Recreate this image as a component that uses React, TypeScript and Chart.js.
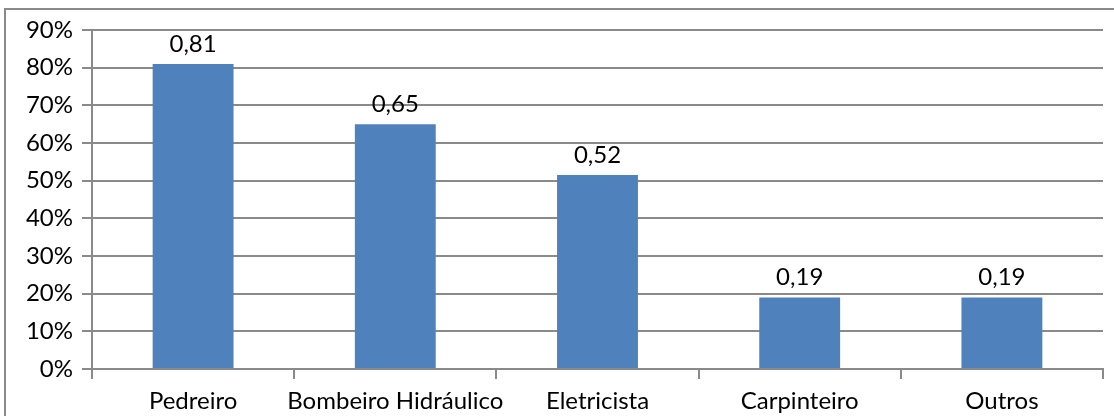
import React, { useEffect, useRef } from "react";
import { Chart, registerables } from "chart.js";

Chart.register(...registerables);

const categories = ["Pedreiro", "Bombeiro Hidráulico", "Eletricista", "Carpinteiro", "Outros"];
const values = [0.81, 0.65, 0.515, 0.19, 0.19];
const labels = ["0,81", "0,65", "0,52", "0,19", "0,19"];
const yTicks = [0, 0.1, 0.2, 0.3, 0.4, 0.5, 0.6, 0.7, 0.8, 0.9];

const FONT = "Lato, 'Open Sans', sans-serif";
const GRID = "#8a8a8a";
const SIZE = 24;

const framePlugin = {
  id: "frame",
  beforeDraw(chart: any) {
    const ctx = chart.ctx;
    ctx.save();
    ctx.fillStyle = "#ffffff";
    ctx.fillRect(0, 0, chart.width, chart.height);
    ctx.strokeStyle = "#8a8a8a";
    ctx.lineWidth = 2;
    ctx.strokeRect(5, 9, 1300, 600);
    ctx.restore();
  },
};

const labelPlugin = {
  id: "valueLabels",
  afterDatasetsDraw(chart: any) {
    const ctx = chart.ctx;
    const meta = chart.getDatasetMeta(0);
    ctx.save();
    ctx.font = `${SIZE}px ${FONT}`;
    ctx.fillStyle = "#000000";
    ctx.textAlign = "center";
    ctx.textBaseline = "alphabetic";
    meta.data.forEach((bar: any, i: number) => {
      ctx.fillText(labels[i], bar.x, bar.y - 12);
    });
    ctx.restore();
  },
};

export default function App() {
  const ref = useRef<HTMLCanvasElement>(null);
  useEffect(() => {
    if (!ref.current) return;
    const chart = new Chart(ref.current, {
      type: "bar",
      data: {
        labels: categories,
        datasets: [
          {
            data: values,
            backgroundColor: "#4F81BD",
            barPercentage: 0.4,
            categoryPercentage: 1,
          },
        ],
      },
      options: {
        animation: false,
        responsive: false,
        maintainAspectRatio: false,
        layout: { padding: { left: 0, right: 11, top: 30, bottom: 0 } },
        plugins: { legend: { display: false }, tooltip: { enabled: false } },
        scales: {
          x: {
            offset: true,
            grid: {
              offset: true,
              drawOnChartArea: false,
              drawTicks: true,
              tickLength: 10,
              color: GRID,
              lineWidth: 2,
            },
            border: { color: GRID, width: 2 },
            ticks: {
              color: "#000000",
              font: { family: FONT, size: SIZE },
              padding: 8,
              maxRotation: 0,
              autoSkip: false,
            },
            afterFit(scale: any) {
              scale.height = 47;
            },
          },
          y: {
            min: 0,
            max: 0.9,
            afterBuildTicks(scale: any) {
              scale.ticks = yTicks.map((v) => ({ value: v }));
            },
            grid: {
              color: GRID,
              lineWidth: 2,
              tickLength: 10,
            },
            border: { color: GRID, width: 2 },
            ticks: {
              color: "#000000",
              font: { family: FONT, size: SIZE },
              padding: 9,
              callback: (v: any) => `${Math.round(Number(v) * 100)}%`,
            },
            afterFit(scale: any) {
              scale.width = 92;
            },
          },
        },
      },
      plugins: [framePlugin, labelPlugin],
    });
    return () => chart.destroy();
  }, []);
  return (
    <div style={{ position: "fixed", left: 0, top: 0, width: 1114, height: 416 }}>
      <canvas ref={ref} width={1114} height={416} style={{ display: "block" }} />
    </div>
  );
}
